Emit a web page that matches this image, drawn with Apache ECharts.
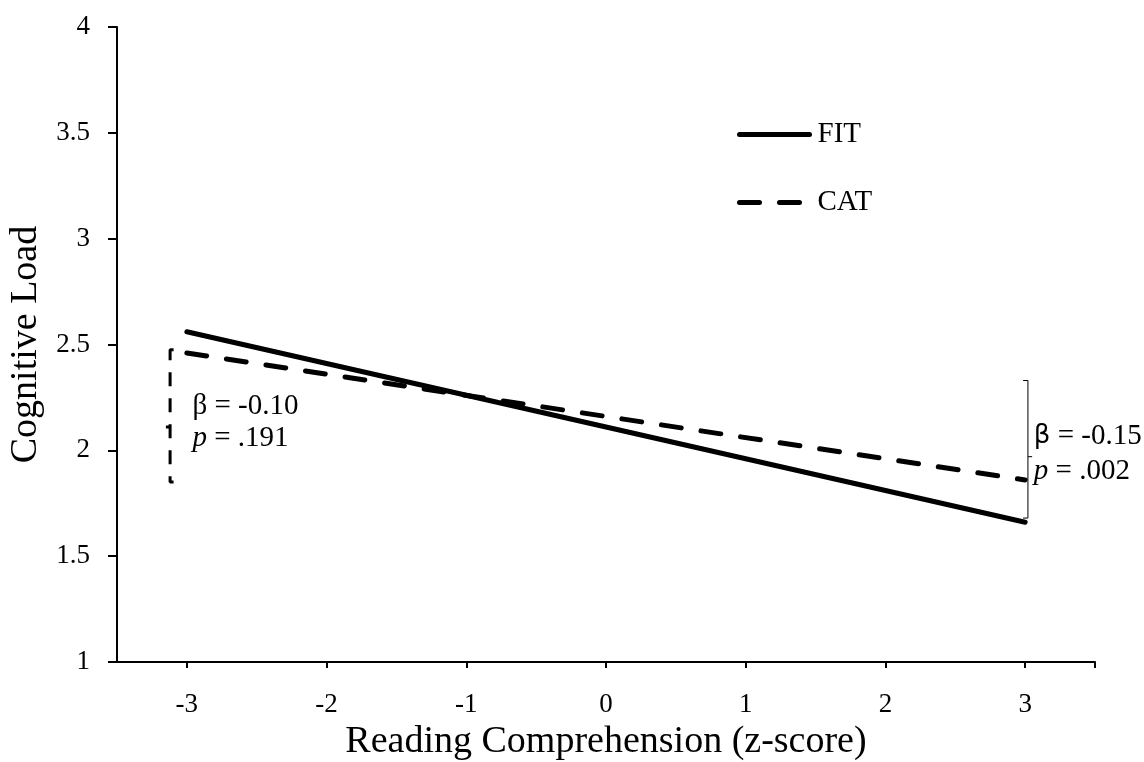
<!DOCTYPE html>
<html>
<head>
<meta charset="utf-8">
<script src="https://cdn.jsdelivr.net/npm/echarts@6/dist/echarts.min.js"></script>
<style>
html,body{margin:0;padding:0;background:#fff;}
#chart{width:1144px;height:762px;}
</style>
</head>
<body>
<div id="chart"></div>
<script>
// ---- data ----
const xTicks = [-3, -2, -1, 0, 1, 2, 3];
const yTicks = [1, 1.5, 2, 2.5, 3, 3.5, 4];
const fitX = [-3, 3];
const fitY = [2.56, 1.66];
const catX = [-3, 3];
const catY = [2.46, 1.86];
const seriesNames = ['FIT', 'CAT'];
// annotation brackets (data coordinates)
const leftBracketX = [-3.095, -3.12, -3.12, -3.095];
const leftBracketY = [2.475, 2.475, 1.85, 1.85];
const leftMidTickX = [-3.15, -3.12];
const leftMidTickY = [2.11, 2.11];
const rightBracketX = [2.985, 3.02, 3.02, 2.985];
const rightBracketY = [2.33, 2.33, 1.68, 1.68];
const rightMidTickX = [3.02, 3.05];
const rightMidTickY = [1.97, 1.97];
const annotations = [
  {x: -2.96, yBeta: 2.206, yP: 2.058, beta: '-0.10', p: '.191', betaFont: 'serif'},
  {x: 3.062, yBeta: 2.068, yP: 1.90, beta: '-0.15', p: '.002', betaFont: 'sans'}
];

const serif = '"Liberation Serif", "Times New Roman", serif';
const sans = '"DejaVu Sans", "Liberation Sans", sans-serif';
const zip = (xs, ys) => xs.map((x, i) => [x, ys[i]]);

const chart = echarts.init(document.getElementById('chart'), null, {renderer: 'canvas'});

const bracket = (xs, ys, style) => ({
  type: 'line', silent: true, symbol: 'none', z: 4,
  data: zip(xs, ys), lineStyle: style, animation: false
});

chart.setOption({
  animation: false,
  backgroundColor: '#fff',
  grid: {left: 117, right: 49, top: 27, bottom: 100, containLabel: false, outerBoundsMode: 'none'},
  legend: {
    orient: 'vertical', left: 732, top: 115, itemGap: 39,
    itemWidth: 70, itemHeight: 14,
    data: seriesNames,
    itemStyle: {opacity: 0},
    lineStyle: {width: 5},
    textStyle: {fontFamily: serif, fontSize: 29, color: '#000', padding: [0, 0, 0, 3]},
    selectedMode: false
  },
  xAxis: {
    type: 'value', min: -3.5, max: 3.5,
    name: 'Reading Comprehension (z-score)', nameLocation: 'middle', nameGap: 57,
    nameTextStyle: {fontFamily: serif, fontSize: 38, color: '#000'},
    axisLine: {show: true, onZero: false, lineStyle: {color: '#000', width: 2}},
    axisTick: {show: true, customValues: [-3, -2, -1, 0, 1, 2, 3, 3.5], length: 6, lineStyle: {color: '#000', width: 2}},
    axisLabel: {customValues: xTicks, margin: 29, fontFamily: serif, fontSize: 27, color: '#000'},
    splitLine: {show: false}
  },
  yAxis: {
    type: 'value', min: 1, max: 4, interval: 0.5,
    name: 'Cognitive Load', nameLocation: 'middle', nameGap: 72,
    nameTextStyle: {fontFamily: serif, fontSize: 38, color: '#000'},
    axisLine: {show: true, onZero: false, lineStyle: {color: '#000', width: 2}},
    axisTick: {show: true, length: 9, lineStyle: {color: '#000', width: 2}},
    axisLabel: {margin: 27, fontFamily: serif, fontSize: 27, color: '#000',
      formatter: v => String(v)},
    splitLine: {show: false}
  },
  series: [
    {name: 'FIT', type: 'line', symbol: 'none', data: zip(fitX, fitY), z: 3,
      lineStyle: {color: '#000', width: 5, cap: 'round'}, itemStyle: {color: '#000'}},
    {name: 'CAT', type: 'line', symbol: 'none', data: zip(catX, catY), z: 3,
      lineStyle: {color: '#000', width: 5, type: [20, 20], cap: 'round'}, itemStyle: {color: '#000'}},
    bracket(leftBracketX, leftBracketY, {color: '#000', width: 3, type: [14, 12]}),
    bracket(leftMidTickX, leftMidTickY, {color: '#000', width: 3}),
    bracket(rightBracketX, rightBracketY, {color: '#000', width: 1}),
    bracket(rightMidTickX, rightMidTickY, {color: '#000', width: 1})
  ]
});

// annotation text placed through the chart's own coordinate conversion
const texts = [];
annotations.forEach(a => {
  const pb = chart.convertToPixel({gridIndex: 0}, [a.x, a.yBeta]);
  const pp = chart.convertToPixel({gridIndex: 0}, [a.x, a.yP]);
  texts.push({
    type: 'text', x: pb[0], y: pb[1], silent: true, z: 10,
    style: {
      text: '{b|\u03b2} = ' + a.beta, fill: '#000', font: '29px ' + serif,
      verticalAlign: 'middle', align: 'left',
      rich: {b: {fill: '#000', fontFamily: a.betaFont === 'sans' ? sans : serif, fontSize: a.betaFont === 'sans' ? 26 : 29}}
    }
  });
  texts.push({
    type: 'text', x: pp[0], y: pp[1], silent: true, z: 10,
    style: {
      text: '{i|p} = ' + a.p, fill: '#000', font: '29px ' + serif,
      verticalAlign: 'middle', align: 'left',
      rich: {i: {fill: '#000', fontStyle: 'italic', fontFamily: serif, fontSize: 29}}
    }
  });
});
chart.setOption({graphic: {elements: texts}});
</script>
</body>
</html>
